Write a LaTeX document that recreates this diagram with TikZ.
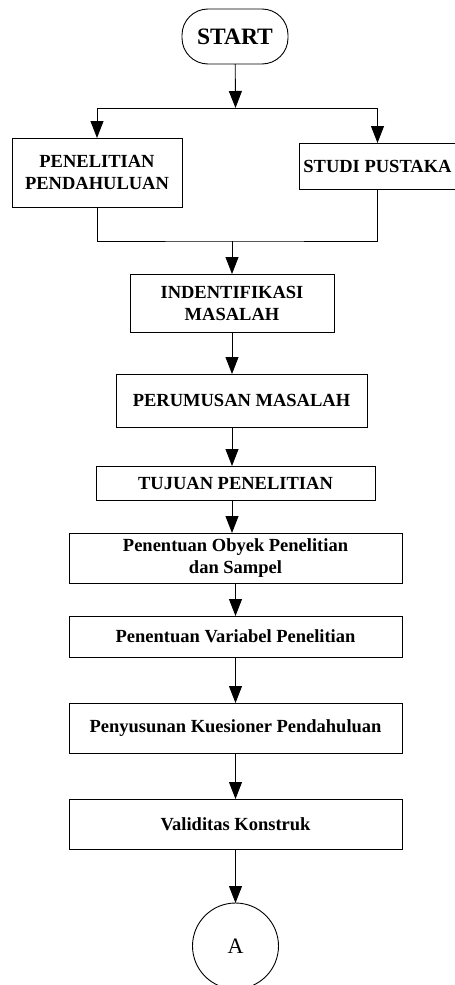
\documentclass[tikz,border=0pt]{standalone}
\usepackage{fontspec}
\setmainfont{Liberation Serif}
\usetikzlibrary{arrows.meta}
\begin{document}
\begin{tikzpicture}[x=1pt,y=-1pt,
  every node/.style={inner sep=0pt, outer sep=0pt},
  box/.style={draw=black, line width=0.9pt, align=center, font=\fontsize{18.5}{22}\selectfont\bfseries},
  term/.style={draw=black, line width=0.9pt, rounded corners=26pt, font=\fontsize{23.5}{26}\selectfont\bfseries},
  conn/.style={draw=black, line width=0.9pt, circle, font=\fontsize{22}{24}\selectfont},
  arr/.style={draw=black, line width=0.9pt, -{Triangle[length=17pt,width=13pt]}},
  ln/.style={draw=black, line width=0.9pt}]
\useasboundingbox (0,0) rectangle (455,985);
\begin{scope}
\clip (0,0) rectangle (455,985);
\node[term, minimum width=106pt, minimum height=55pt] (start) at (235,36.5) {START};
\node[box, minimum width=170pt, minimum height=69pt] (pp) at (97,172.5) {PENELITIAN\\PENDAHULUAN};
\node[box, minimum width=156pt, minimum height=46pt] (sp) at (377.5,166) {STUDI PUSTAKA};
\node[box, minimum width=204pt, minimum height=58pt] (ind) at (232,303) {INDENTIFIKASI\\MASALAH};
\node[box, minimum width=251pt, minimum height=53pt] (per) at (241.5,400.5) {PERUMUSAN MASALAH};
\node[box, minimum width=279pt, minimum height=34pt] (tuj) at (235.5,483) {TUJUAN PENELITIAN};
\node[box, minimum width=333pt, minimum height=50pt] (oby) at (235.5,558) {Penentuan Obyek Penelitian\\dan Sampel};
\node[box, minimum width=333pt, minimum height=41pt] (var) at (235.5,636.5) {Penentuan Variabel Penelitian};
\node[box, minimum width=333pt, minimum height=50pt] (pen) at (235.5,728) {Penyusunan Kuesioner Pendahuluan};
\node[box, minimum width=333pt, minimum height=50pt] (val) at (235.5,824) {Validitas Konstruk};
\node[conn, minimum size=86pt] (a) at (235.5,946) {A};
\coordinate (j1) at (235.5,108);
\coordinate (j2) at (232,241);
\draw[arr] (start) -- (j1);
\draw[arr] (j1) -| (pp);
\draw[arr] (j1) -| (sp);
\draw[ln] (pp) |- (j2) -| (sp);
\draw[arr] (j2) -- (ind);
\draw[arr] (ind.south) -- (ind.south |- per.north);
\draw[arr] (ind.south |- per.south) -- (ind.south |- tuj.north);
\draw[arr] (ind.south |- tuj.south) -- (ind.south |- oby.north);
\draw[arr] (oby) -- (var);
\draw[arr] (var) -- (pen);
\draw[arr] (pen) -- (val);
\draw[arr] (val) -- (a);
\end{scope}
\end{tikzpicture}
\end{document}
